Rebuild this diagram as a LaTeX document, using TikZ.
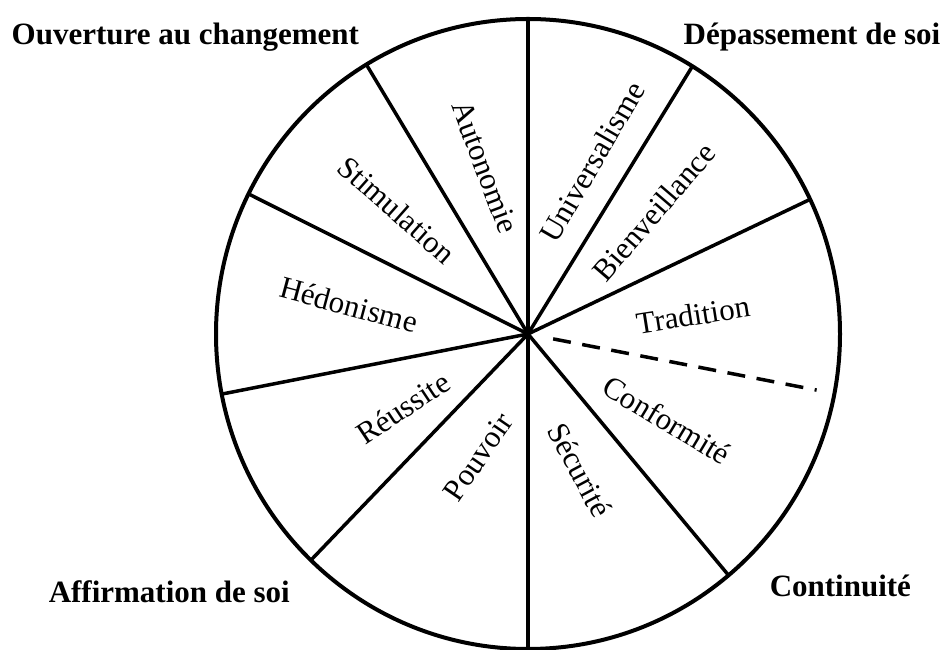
\documentclass[tikz,border=0pt]{standalone}
\usepackage{fontspec}
\setmainfont{Liberation Serif}
\usepackage{tikz}
\usetikzlibrary{calc}
\tikzstyle{value}=[
    font = \fontsize{31}{36}\selectfont,
    inner sep = 0pt
]
\tikzstyle{pole}=[
    font = \fontsize{31}{36}\selectfont\bfseries,
    inner sep = 0pt
]

\begin{document}
\begin{tikzpicture}[x=1pt, y=1pt, line width=3.5pt, rim/.style = {draw, line width=4pt}]
        \useasboundingbox (0,0) rectangle (948,650);
        \coordinate (c) at (528,316);
        \draw[rim] (c) ellipse [x radius=312, y radius=315];

        % ends of the spokes on the rim
        \coordinate (top) at ($(c)+(90:312 and 315)$);
        \coordinate (autsti) at ($(c)+(121.2:312 and 315)$);
        \coordinate (stihed) at ($(c)+(153.6:312 and 315)$);
        \coordinate (hedreu) at ($(c)+(191:312 and 315)$);
        \coordinate (reupou) at ($(c)+(225.9:312 and 315)$);
        \coordinate (bottom) at ($(c)+(270:312 and 315)$);
        \coordinate (secconf) at ($(c)+(310:312 and 315)$);
        \coordinate (conftra) at ($(c)+(349:294)$);
        \coordinate (trabie) at ($(c)+(25.3:312 and 315)$);
        \coordinate (bieuni) at ($(c)+(58.2:312 and 315)$);

        \draw (c) -- (top);
        \draw (c) -- (autsti);
        \draw (c) -- (stihed);
        \draw (c) -- (hedreu);
        \draw (c) -- (reupou);
        \draw (c) -- (bottom);
        \draw (c) -- (secconf);
        \draw[dash pattern=on 18pt off 11.6pt, dash phase=18pt, shorten <=14pt] (c) -- (conftra);
        \draw (c) -- (trabie);
        \draw (c) -- (bieuni);

        \node[value, rotate=-69.5] (aut) at (485,483) {Autonomie};
        \node[value, rotate=-41.5] (sti) at (397,440) {Stimulation};
        \node[value, rotate=-15] (hed) at (349,345) {Hédonisme};
        \node[value, rotate=33.7] (reu) at (403,242) {Réussite};
        \node[value, rotate=55.5] (pou) at (478,193) {Pouvoir};
        \node[value, rotate=-62] (sec) at (580,180) {Sécurité};
        \node[value, rotate=-31] (conf) at (667,230) {Conformité};
        \node[value, rotate=9] (tra) at (693,335) {Tradition};
        \node[value, rotate=49.3] (bie) at (654,438) {Bienveillance};
        \node[value, rotate=60] (uni) at (592,488) {Universalisme};

        \node[pole, anchor=base west] (ouv) at (10,605) {Ouverture au changement};
        \node[pole, anchor=base east] (dep) at (942,605) {Dépassement de soi};
        \node[pole, anchor=base west] (aff) at (47,47) {Affirmation de soi};
        \node[pole, anchor=base west] (cont) at (768,53) {Continuité};

    \end{tikzpicture}
\end{document}
